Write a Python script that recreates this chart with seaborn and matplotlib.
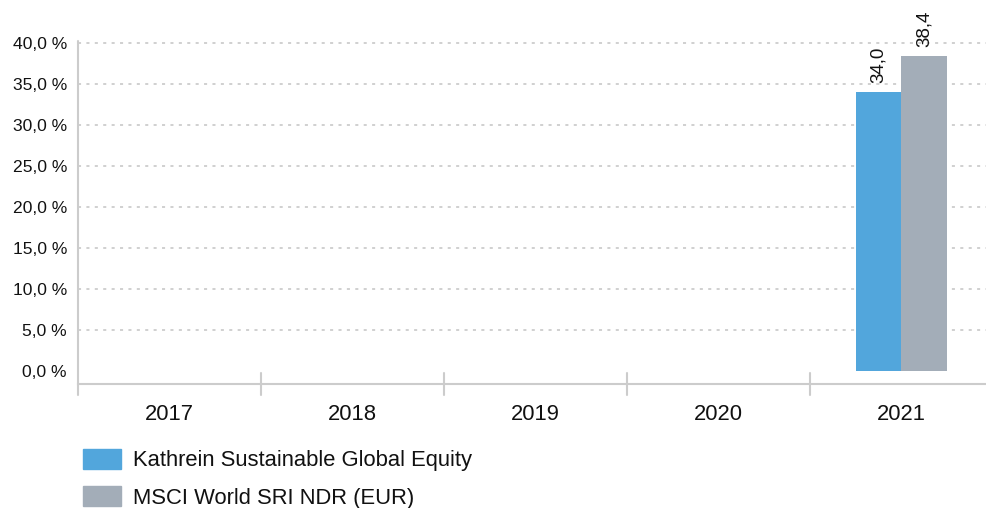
import pandas as pd
import numpy as np
import matplotlib.pyplot as plt
import seaborn as sns
from matplotlib.ticker import FuncFormatter, FixedLocator
from matplotlib.lines import Line2D
import matplotlib.transforms as mtransforms

years = ['2017', '2018', '2019', '2020', '2021']
fund = [np.nan, np.nan, np.nan, np.nan, 34.0]
bench = [np.nan, np.nan, np.nan, np.nan, 38.4]
series = ['Kathrein Sustainable Global Equity', 'MSCI World SRI NDR (EUR)']
colors = ['#52A6DC', '#A3ADB8']

df = pd.DataFrame({
    'year': years * 2,
    'value': fund + bench,
    'series': [series[0]] * len(years) + [series[1]] * len(years),
})

sns.set_style('white')
plt.rcParams['font.family'] = ['Liberation Sans', 'DejaVu Sans']

fig = plt.figure(figsize=(9.87, 5.08), dpi=100)
ax = fig.add_axes([78 / 987, 0.2439, 1 - 78 / 987, 0.6746])

sns.barplot(data=df, x='year', y='value', hue='series', order=years,
            hue_order=series, palette=colors, width=0.5, dodge=True,
            saturation=1, ax=ax, legend=False, linewidth=0)

ax.set_xlim(-0.5, 4.5 - 6 / 183)
ax.set_ylim(-1.6, 40.2)
ax.set_xlabel('')
ax.set_ylabel('')

# value labels
for cont in ax.containers:
    labels = []
    for b in cont:
        h = b.get_height()
        labels.append('' if np.isnan(h) or h == 0 else f'{h:.1f}'.replace('.', ','))
    ax.bar_label(cont, labels=labels, rotation=90, padding=6.5, fontsize=13.5,
                 color='#111111')

# y axis
ax.yaxis.set_major_locator(FixedLocator(np.arange(0, 41, 5)))
ax.yaxis.set_major_formatter(FuncFormatter(lambda v, p: f'{v:.1f} %'.replace('.', ',')))
ax.tick_params(axis='y', length=0, pad=8, labelsize=12.6, labelcolor='#111111')
ax.yaxis.grid(True, color='#c4c4c4', linestyle=(0, (2, 3.5)), linewidth=1.1)
ax.get_ygridlines()[0].set_visible(False)

# x axis
ax.tick_params(axis='x', length=0, pad=14, labelsize=15.8, labelcolor='#111111')
ax.set_xticks(range(len(years)))

# category boundary ticks
trans = mtransforms.blended_transform_factory(ax.transData, ax.transData)
for xb in [0.5, 1.5, 2.5, 3.5]:
    ax.add_line(Line2D([xb, xb], [-0.25, -2.95], color='#cccccc', lw=1.5,
                       clip_on=False, transform=trans))

for s in ['top', 'right']:
    ax.spines[s].set_visible(False)
ax.spines['bottom'].set_color('#cccccc')
ax.spines['bottom'].set_linewidth(1.5)
ax.spines['left'].set_visible(False)
ax.add_line(Line2D([-0.5, -0.5], [-2.95, 40.3], color='#cccccc', lw=1.5, clip_on=False))
ax.set_axisbelow(True)

handles = [plt.Rectangle((0, 0), 1, 1, color=c) for c in colors]
leg = fig.legend(handles, series, loc='upper left', bbox_to_anchor=(83 / 987, 1 - 449 / 508),
                 frameon=False, fontsize=15.8, handlelength=1.75, handleheight=1.0,
                 handletextpad=0.55, labelspacing=0.68, borderpad=0, borderaxespad=0)
for t in leg.get_texts():
    t.set_color('#111111')

plt.savefig('out.png', dpi=100)
